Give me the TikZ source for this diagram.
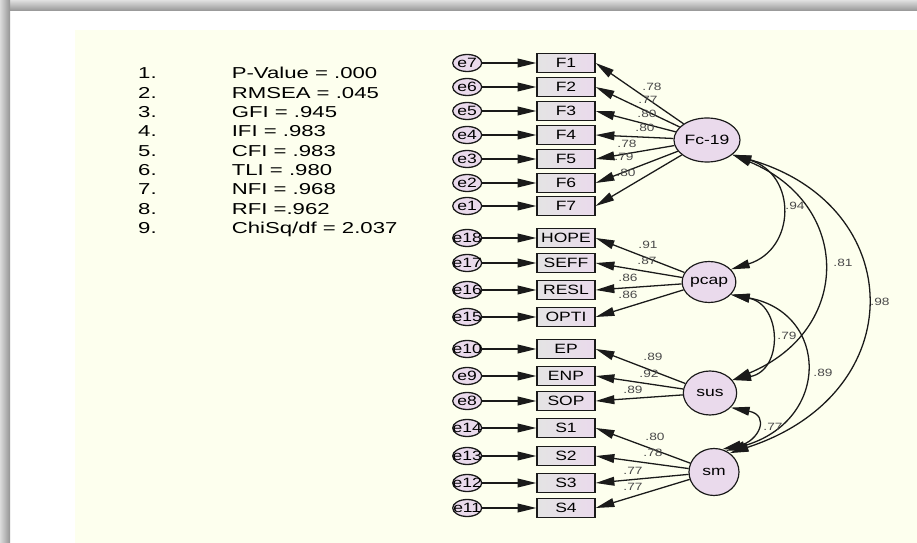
\documentclass[tikz,border=0pt]{standalone}
\usepackage{fontspec}
\setmainfont{Liberation Sans}[FakeStretch=1.3]
\newfontfamily\listfont{Liberation Sans}[FakeStretch=1.4]
\definecolor{SemCream}{HTML}{FDFFEE}
\definecolor{SemLilac}{HTML}{EADAEC}
\definecolor{SemGrey}{HTML}{E4E4E4}
\definecolor{SemInk}{HTML}{1A1A1A}
\definecolor{SemCoef}{HTML}{4A4A4A}
\usetikzlibrary{positioning,shapes.geometric,arrows.meta}

% error labels may stick out of their small ellipses
\newcommand{\ezero}[1]{\makebox[0pt]{#1}}

\begin{document}
\begin{tikzpicture}[x=0.03cm, y=-0.03cm, font=\fontsize{11.5}{13}\selectfont,
    obs/.style={rectangle, draw=SemInk, line width=1.1pt, left color=SemGrey, right color=SemLilac,
      minimum width=1.74cm, minimum height=0.57cm, inner sep=0pt},
    err/.style={ellipse, draw=SemInk, line width=1.1pt, fill=SemLilac,
      minimum width=0.87cm, minimum height=0.51cm, inner sep=0pt},
    lat/.style={ellipse, draw=SemInk, line width=1pt, fill=SemLilac, inner sep=0pt},
    reg/.style={draw=SemInk, line width=1.1pt, -{Triangle[length=16pt,width=7.5pt]}},
    cov/.style={draw=SemInk, line width=1.1pt, {Triangle[length=16pt,width=7.5pt]}-{Triangle[length=16pt,width=7.5pt]}},
    coef/.style={text=SemCoef, font=\fontsize{9}{10}\selectfont, inner sep=0pt}]
    \useasboundingbox (0,0) rectangle (917,543);

    % page frame with its shadow edges
    \fill[white] (0,0) rectangle (917,543);
    \shade[top color=black!12, bottom color=black!42] (0,0) rectangle (917,11);
    \shade[left color=black!14, right color=black!42] (0,0) rectangle (10,543);
    \fill[SemCream] (75,30) rectangle (917,543);

    % fit indices
    \node[anchor=base west, inner sep=0pt, font=\listfont\fontsize{13.5}{16.5}\selectfont] (fits) at (138,79) {%
      \begin{tabular}[t]{@{}p{79.9pt}@{}l@{}}
        1. & P-Value = .000\\
        2. & RMSEA = .045\\
        3. & GFI = .945\\
        4. & IFI = .983\\
        5. & CFI = .983\\
        6. & TLI = .980\\
        7. & NFI = .968\\
        8. & RFI =.962\\
        9. & ChiSq/df = 2.037
      \end{tabular}};

    % latent variables
    \node[lat, minimum width=1.98cm, minimum height=1.32cm] (Fc19) at (707,140) {Fc-19};
    \node[lat, minimum width=1.56cm, minimum height=1.23cm] (pcap) at (709,282) {pcap};
    \node[lat, minimum width=1.60cm, minimum height=1.32cm] (sus) at (710,393) {sus};
    \node[lat, minimum width=1.50cm, minimum height=1.41cm] (sm) at (714,472) {sm};

    % indicators
    \node[obs] (F1) at (566,63) {F1};
    \node[obs] (F2) at (566,87) {F2};
    \node[obs] (F3) at (566,111) {F3};
    \node[obs] (F4) at (566,135) {F4};
    \node[obs] (F5) at (566,159) {F5};
    \node[obs] (F6) at (566,183) {F6};
    \node[obs] (F7) at (566,206) {F7};
    \node[obs] (HOPE) at (566,238) {HOPE};
    \node[obs] (SEFF) at (566,263) {SEFF};
    \node[obs] (RESL) at (566,290) {RESL};
    \node[obs] (OPTI) at (566,317) {OPTI};
    \node[obs] (EP) at (566,349) {EP};
    \node[obs] (ENP) at (566,376) {ENP};
    \node[obs] (SOP) at (566,401) {SOP};
    \node[obs] (S1) at (566,428) {S1};
    \node[obs] (S2) at (566,456) {S2};
    \node[obs] (S3) at (566,483) {S3};
    \node[obs] (S4) at (566,508) {S4};

    % error terms
    \node[err, left=1.62cm of F1] (e7) {\ezero{e7}};
    \node[err, left=1.62cm of F2] (e6) {\ezero{e6}};
    \node[err, left=1.62cm of F3] (e5) {\ezero{e5}};
    \node[err, left=1.62cm of F4] (e4) {\ezero{e4}};
    \node[err, left=1.62cm of F5] (e3) {\ezero{e3}};
    \node[err, left=1.62cm of F6] (e2) {\ezero{e2}};
    \node[err, left=1.62cm of F7] (e1) {\ezero{e1}};
    \node[err, left=1.62cm of HOPE] (e18) {\ezero{e18}};
    \node[err, left=1.62cm of SEFF] (e17) {\ezero{e17}};
    \node[err, left=1.62cm of RESL] (e16) {\ezero{e16}};
    \node[err, left=1.62cm of OPTI] (e15) {\ezero{e15}};
    \node[err, left=1.62cm of EP] (e10) {\ezero{e10}};
    \node[err, left=1.62cm of ENP] (e9) {\ezero{e9}};
    \node[err, left=1.62cm of SOP] (e8) {\ezero{e8}};
    \node[err, left=1.62cm of S1] (e14) {\ezero{e14}};
    \node[err, left=1.62cm of S2] (e13) {\ezero{e13}};
    \node[err, left=1.62cm of S3] (e12) {\ezero{e12}};
    \node[err, left=1.62cm of S4] (e11) {\ezero{e11}};

    \draw[reg] (e7) -- (F1);
    \draw[reg] (e6) -- (F2);
    \draw[reg] (e5) -- (F3);
    \draw[reg] (e4) -- (F4);
    \draw[reg] (e3) -- (F5);
    \draw[reg] (e2) -- (F6);
    \draw[reg] (e1) -- (F7);
    \draw[reg] (e18) -- (HOPE);
    \draw[reg] (e17) -- (SEFF);
    \draw[reg] (e16) -- (RESL);
    \draw[reg] (e15) -- (OPTI);
    \draw[reg] (e10) -- (EP);
    \draw[reg] (e9) -- (ENP);
    \draw[reg] (e8) -- (SOP);
    \draw[reg] (e14) -- (S1);
    \draw[reg] (e13) -- (S2);
    \draw[reg] (e12) -- (S3);
    \draw[reg] (e11) -- (S4);

    % loadings
    \draw[reg] (Fc19) -- (F1.east) node[coef] at (652,87) {.78};
    \draw[reg] (Fc19) -- (F2.east) node[coef] at (648,100) {.77};
    \draw[reg] (Fc19) -- (F3.east) node[coef] at (647,114) {.80};
    \draw[reg] (Fc19) -- (F4.east) node[coef] at (645,128) {.80};
    \draw[reg] (Fc19) -- (F5.east) node[coef] at (627,144) {.78};
    \draw[reg] (Fc19) -- (F6.east) node[coef] at (624,157) {.79};
    \draw[reg] (Fc19) -- (F7.east) node[coef] at (626,173) {.80};
    \draw[reg] (pcap) -- (HOPE.east) node[coef] at (648,245) {.91};
    \draw[reg] (pcap) -- (SEFF.east) node[coef] at (647,261) {.87};
    \draw[reg] (pcap) -- (RESL.east) node[coef] at (628,278) {.86};
    \draw[reg] (pcap) -- (OPTI.east) node[coef] at (628,295) {.86};
    \draw[reg] (sus) -- (EP.east) node[coef] at (653,357) {.89};
    \draw[reg] (sus) -- (ENP.east) node[coef] at (649,374) {.92};
    \draw[reg] (sus) -- (SOP.east) node[coef] at (633,390) {.89};
    \draw[reg] (sm) -- (S1.east) node[coef] at (655,437) {.80};
    \draw[reg] (sm) -- (S2.east) node[coef] at (653,453) {.78};
    \draw[reg] (sm) -- (S3.east) node[coef] at (633,471) {.77};
    \draw[reg] (sm) -- (S4.east) node[coef] at (633,487) {.77};

    % correlations between the factors
    \draw[cov] (Fc19.-30) .. controls +(65,20) and +(65,-20) .. (pcap.30) node[coef] at (795,206) {.94};
    \draw[cov] (Fc19.-30) .. controls +(120,50) and +(120,-50) .. (sus.30) node[coef] at (843,263) {.81};
    \draw[cov] (Fc19.-30) .. controls +(175,50) and +(184,-60) .. (sm.50) node[coef] at (880,302) {.98};
    \draw[cov] (pcap.-30) .. controls +(51,10) and +(51,-10) .. (sus.30) node[coef] at (787,336) {.79};
    \draw[cov] (pcap.-30) .. controls +(98,18) and +(105,-30) .. (sm.60) node[coef] at (823,373) {.89};
    \draw[cov] (sus.-35) .. controls +(40,8) and +(36,-8) .. (sm.70) node[coef] at (773,427) {.77};
  \end{tikzpicture}
\end{document}
